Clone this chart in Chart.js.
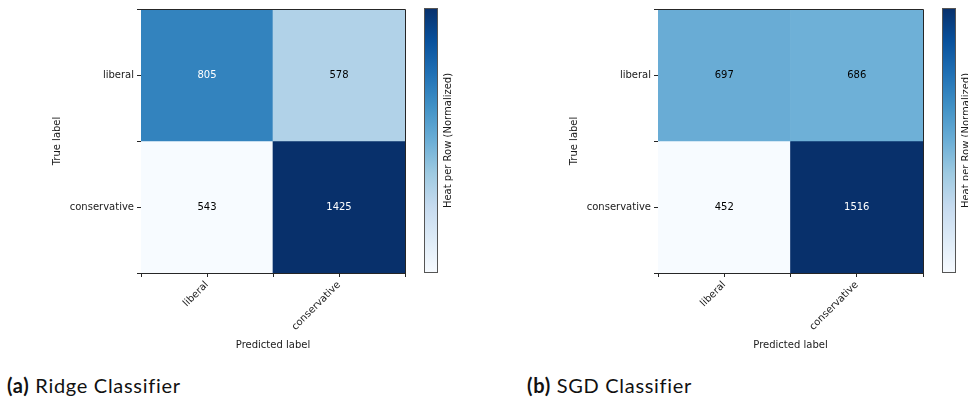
<!DOCTYPE html>
<html>
<head>
<meta charset="utf-8">
<script src="https://cdn.jsdelivr.net/npm/chart.js@4.4.1/dist/chart.umd.min.js"></script>
<style>
  html, body { margin: 0; padding: 0; background: #ffffff; overflow: hidden; }
  #wrap { position: relative; width: 968px; height: 401px; overflow: hidden; }
  canvas { position: absolute; top: 0; }
  #ridge { left: 0; }
  #sgd { left: 517px; }
  .cap { position: absolute; top: 375px; font-family: Lato, sans-serif; font-size: 20px; line-height: 20px; letter-spacing: 0.7px; color: #111; white-space: nowrap; }
  .cap b { font-weight: 700; }
</style>
</head>
<body>
<div id="wrap">
  <canvas id="ridge" width="484" height="360"></canvas>
  <canvas id="sgd" width="451" height="360"></canvas>
  <div class="cap" style="left:7px"><b>(a)</b> Ridge Classifier</div>
  <div class="cap" style="left:527px"><b>(b)</b> SGD Classifier</div>
</div>
<script>
// Class names (rows = true label, columns = predicted label)
const trueLabels = ['liberal', 'conservative'];
const predictedLabels = ['liberal', 'conservative'];

// Confusion-matrix counts, one array per true-label row
const ridgeLiberalRow = [805, 578];
const ridgeConservativeRow = [543, 1425];
const sgdLiberalRow = [697, 686];
const sgdConservativeRow = [452, 1516];

const FONT = 'DejaVu Sans';
const INK = '#1a1a1a';
const SPINE = '#262626';

// matplotlib "Blues" colormap stops
const bluesStops = ['#f7fbff', '#deebf7', '#c6dbef', '#9ecae1', '#6baed6', '#4292c6', '#2171b5', '#08519c', '#08306b'];
function hexToRgb(h) { return [1, 3, 5].map(i => parseInt(h.slice(i, i + 2), 16)); }
const bluesRgb = bluesStops.map(hexToRgb);
function blues(t) {
  t = Math.max(0, Math.min(1, t));
  const pos = t * (bluesRgb.length - 1);
  const i = Math.min(Math.floor(pos), bluesRgb.length - 2);
  const f = pos - i;
  const a = bluesRgb[i], b = bluesRgb[i + 1];
  const c = a.map((v, k) => Math.round(v + (b[k] - v) * f));
  return 'rgb(' + c.join(',') + ')';
}

// Cell annotations, outer frame and the colorbar
const heatDecor = {
  id: 'heatDecor',
  afterDatasetsDraw(chart, args, opts) {
    const { ctx, chartArea: ca, scales } = chart;
    const counts = opts.counts;
    const thresh = Math.max(...counts.flat()) / 2;
    ctx.save();
    ctx.font = '10px "' + FONT + '"';
    ctx.textAlign = 'center';
    ctx.textBaseline = 'middle';
    counts.forEach((row, i) => {
      row.forEach((v, j) => {
        const px = scales.x.getPixelForValue(j);
        const py = scales.y.getPixelForValue(i + 0.5);
        ctx.fillStyle = v > thresh ? '#ffffff' : '#000000';
        ctx.fillText(String(v), px, py);
      });
    });
    // top and right spines
    ctx.strokeStyle = SPINE;
    ctx.lineWidth = 1;
    ctx.beginPath();
    ctx.moveTo(Math.floor(ca.left), Math.floor(ca.top) + 0.5);
    ctx.lineTo(Math.ceil(ca.right) + 0.5, Math.floor(ca.top) + 0.5);
    ctx.lineTo(Math.ceil(ca.right) + 0.5, Math.ceil(ca.bottom));
    ctx.stroke();

    // colorbar
    const cbX = Math.round(ca.right) + 19;
    const cbW = 14;
    const cbTop = Math.round(ca.top) - 1;
    const cbBot = Math.round(ca.bottom);
    const grad = ctx.createLinearGradient(0, cbBot, 0, cbTop);
    bluesStops.forEach((c, k) => grad.addColorStop(k / (bluesStops.length - 1), c));
    ctx.fillStyle = grad;
    ctx.fillRect(cbX, cbTop, cbW, cbBot - cbTop);
    ctx.strokeStyle = '#555555';
    ctx.strokeRect(cbX + 0.5, cbTop + 0.5, cbW - 1, cbBot - cbTop - 1);

    ctx.translate(cbX + cbW + 10, (cbTop + cbBot) / 2);
    ctx.rotate(-Math.PI / 2);
    ctx.fillStyle = INK;
    ctx.fillText(opts.colorbarLabel, 0, 0);
    ctx.restore();
  }
};

function buildChart(canvasId, rows, rightPad) {
  const norm = rows.map(r => {
    const s = r.reduce((a, b) => a + b, 0);
    return r.map(v => v / s);
  });
  const flat = norm.flat();
  const lo = Math.min(...flat), hi = Math.max(...flat);

  const datasets = rows.map((row, i) => ({
    label: trueLabels[i],
    data: row.map(() => [i, i + 1]),
    backgroundColor: norm[i].map(v => blues((v - lo) / (hi - lo))),
    borderWidth: 0,
    grouped: false,
    barPercentage: 1,
    categoryPercentage: 1,
    xAxisID: 'x',
    yAxisID: 'y'
  }));

  const tickFont = { family: FONT, size: 10 };
  const gridOpts = { display: true, drawOnChartArea: false, drawTicks: true, tickLength: 4, color: SPINE, lineWidth: 1, offset: false };

  return new Chart(document.getElementById(canvasId), {
    type: 'bar',
    data: { labels: predictedLabels, datasets },
    options: {
      responsive: false,
      animation: false,
      events: [],
      layout: { padding: { left: 47, top: 9, right: rightPad, bottom: 5 } },
      plugins: {
        legend: { display: false },
        tooltip: { enabled: false },
        heatDecor: { counts: rows, colorbarLabel: 'Heat per Row (Normalized)' }
      },
      scales: {
        x: {
          type: 'category',
          position: 'bottom',
          offset: true,
          grid: gridOpts,
          border: { display: true, color: SPINE, width: 1 },
          ticks: { autoSkip: false, minRotation: 45, maxRotation: 45, padding: 2, color: INK, font: tickFont },
          title: { display: true, text: 'Predicted label', color: INK, font: tickFont, padding: { top: 4, bottom: 4 } },
          afterFit(s) { s.height = 82; }
        },
        // cell-edge tick marks along the bottom
        xEdge: {
          type: 'linear',
          position: 'bottom',
          weight: -1,
          offset: false,
          min: 0,
          max: predictedLabels.length,
          ticks: { stepSize: 1, display: false },
          grid: gridOpts,
          border: { display: true, color: SPINE, width: 1 },
          afterFit(s) { s.height = 0; }
        },
        y: {
          type: 'linear',
          reverse: true,
          offset: false,
          min: 0,
          max: trueLabels.length,
          grid: gridOpts,
          border: { display: true, color: SPINE, width: 1 },
          ticks: {
            stepSize: 0.5,
            autoSkip: false,
            padding: 3,
            color: INK,
            font: tickFont,
            callback: v => (Math.abs(v % 1 - 0.5) < 1e-9 ? trueLabels[Math.floor(v)] : '')
          },
          title: { display: true, text: 'True label', color: INK, font: tickFont, padding: { top: 4, bottom: 4 } },
          afterFit(s) { s.width = 94; }
        }
      }
    },
    plugins: [heatDecor]
  });
}

buildChart('ridge', [ridgeLiberalRow, ridgeConservativeRow], 79);
buildChart('sgd', [sgdLiberalRow, sgdConservativeRow], 45);
</script>
</body>
</html>
